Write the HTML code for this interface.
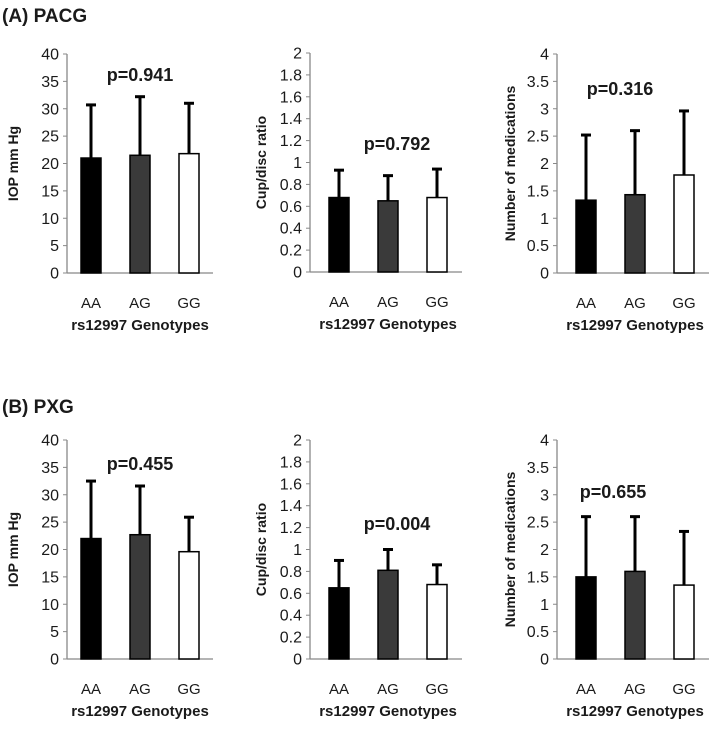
<!DOCTYPE html>
<html><head><meta charset="utf-8"><style>
body{margin:0;background:#fff}
svg text{font-family:"Liberation Sans",sans-serif;fill:#1a1a1a}
</style></head><body>
<svg id="c" width="709" height="725" xmlns="http://www.w3.org/2000/svg">
<text x="2" y="22" font-size="19" font-weight="bold">(A) PACG</text>
<text x="2" y="413" font-size="19" font-weight="bold">(B) PXG</text>
</svg>
<script>
const categories=["AA","AG","GG"];
const a_iop=[21,21.5,21.8], a_iop_err=[30.7,32.2,31.0];
const a_cdr=[0.68,0.65,0.68], a_cdr_err=[0.93,0.88,0.94];
const a_med=[1.33,1.43,1.79], a_med_err=[2.52,2.6,2.96];
const b_iop=[22,22.7,19.6], b_iop_err=[32.5,31.6,25.9];
const b_cdr=[0.65,0.81,0.68], b_cdr_err=[0.9,1.0,0.86];
const b_med=[1.5,1.6,1.35], b_med_err=[2.6,2.6,2.33];
const iopTicks=["0","5","10","15","20","25","30","35","40"];
const cdrTicks=["0","0.2","0.4","0.6","0.8","1","1.2","1.4","1.6","1.8","2"];
const medTicks=["0","0.5","1","1.5","2","2.5","3","3.5","4"];
const pvals=["p=0.941","p=0.792","p=0.316","p=0.455","p=0.004","p=0.655"];
const NS="http://www.w3.org/2000/svg";
const svg=document.getElementById('c');
function mk(t,a,txt){const e=document.createElementNS(NS,t);for(const k in a)e.setAttribute(k,a[k]);if(txt!=null)e.textContent=txt;svg.appendChild(e);return e;}
const fills=["#000","#3a3a3a","#fff"];
function panel(ax,x0,x1,yTop,yZero,ticks,max,vals,errs,ytitle,ttlX,p,pX,pY){
  const y=v=>yZero-(v/max)*(yZero-yTop);
  const l=mk('line',{x1:ax,y1:yTop,x2:ax,y2:yZero,stroke:'#888','stroke-width':1.3});
  
  
  const b=mk('line',{x1:ax,y1:yZero,x2:x1,y2:yZero,stroke:'#888','stroke-width':1.3});
  
  
  ticks.forEach(t=>{const yy=y(parseFloat(t));
    mk('line',{x1:ax-4,y1:yy,x2:ax,y2:yy,stroke:'#888'});
    const tx=mk('text',{x:ax-8,y:yy+5.5,'font-size':16,'text-anchor':'end'},t);
    
    
  });
  vals.forEach((v,i)=>{const bx=x0+i*49;
    const e=mk('line',{x1:bx+10,y1:y(errs[i]),x2:bx+10,y2:y(v),stroke:'#000','stroke-width':3});
    
    
    mk('line',{x1:bx+5,y1:y(errs[i]),x2:bx+15,y2:y(errs[i]),stroke:'#000','stroke-width':3});
    const r=mk('rect',{x:bx,y:y(v),width:20,height:yZero-y(v),fill:fills[i],stroke:'#000','stroke-width':1.5});
    
    
    const c=mk('text',{x:bx+10,y:yZero+35,'font-size':15,'text-anchor':'middle'},categories[i]);
    
    
  });
  const xt=mk('text',{x:x0+59,y:yZero+57,'font-size':15,'font-weight':'bold','text-anchor':'middle'},'rs12997 Genotypes');
  
  
  const cy=(yTop+yZero)/2;
  const yt=mk('text',{x:ttlX,y:cy,'font-size':14,'font-weight':'bold','text-anchor':'middle',transform:`rotate(-90 ${ttlX} ${cy})`},ytitle);
  
  
  const pt=mk('text',{x:pX,y:pY,'font-size':18,'font-weight':'bold','text-anchor':'middle'},p);
  
  
}
panel(67,81,213,54,273,iopTicks,40,a_iop,a_iop_err,'IOP mm Hg',18,pvals[0],140,81);
panel(310,329,462,53,272,cdrTicks,2,a_cdr,a_cdr_err,'Cup/disc ratio',266,pvals[1],397,150);
panel(557,576,709,54,273,medTicks,4,a_med,a_med_err,'Number of medications',515,pvals[2],620,95);
panel(67,81,213,440,659,iopTicks,40,b_iop,b_iop_err,'IOP mm Hg',18,pvals[3],140,470);
panel(310,329,462,440,659,cdrTicks,2,b_cdr,b_cdr_err,'Cup/disc ratio',266,pvals[4],397,530);
panel(557,576,709,440,659,medTicks,4,b_med,b_med_err,'Number of medications',515,pvals[5],613,498);
</script>
</body></html>
